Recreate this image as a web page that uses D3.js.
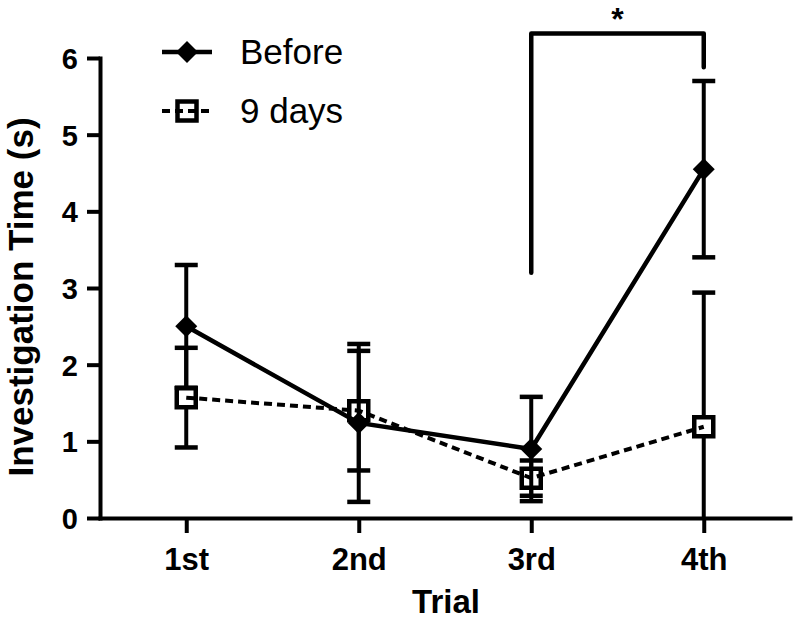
<!DOCTYPE html>
<html>
<head>
<meta charset="utf-8">
<script src="https://cdn.jsdelivr.net/npm/d3@7/dist/d3.min.js"></script>
<style>
  html, body { margin: 0; padding: 0; background: #ffffff; }
  svg { display: block; }
</style>
</head>
<body>
<svg id="chart" width="793" height="621"></svg>
<script>
// ---- data ----
const categories = ["1st", "2nd", "3rd", "4th"];
const beforeMean = [2.5, 1.24, 0.9, 4.55];
const beforeErr  = [0.8, 1.03, 0.68, 1.15];
const daysMean   = [1.57, 1.40, 0.52, 1.19];
const daysErr    = [0.65, 0.78, 0.23, 1.75];
const yTicks     = [0, 1, 2, 3, 4, 5, 6];
const seriesNames = ["Before", "9 days"];
// significance bracket: left leg bottom, top, right leg bottom (data units)
const sigFrom = "3rd", sigTo = "4th";
const sigLevels = [3.2, 6.32, 5.88];
const sigLabel = "*";

// ---- layout ----
const svg = d3.select("#chart");
const x = d3.scalePoint().domain(categories).range([100, 790]).padding(0.5);
const y = d3.scaleLinear().domain([0, 6]).range([518, 58]);

const FONT = "'Liberation Sans', Arial, Helvetica, sans-serif";

// ---- axes ----
const yAxis = svg.append("g").attr("transform", "translate(100,0)")
  .call(d3.axisLeft(y).tickValues(yTicks).tickSize(13).tickSizeOuter(0).tickPadding(9).tickFormat(d3.format("d")));
yAxis.select(".domain").attr("stroke", "#000").attr("stroke-width", 4).attr("stroke-linecap", "square");
yAxis.selectAll(".tick line").attr("stroke", "#000").attr("stroke-width", 4);
yAxis.selectAll(".tick text").attr("font-family", FONT).attr("font-weight", "bold")
  .attr("font-size", 29).attr("fill", "#000").attr("dy", "0.36em");

const xAxis = svg.append("g").attr("transform", "translate(0,518)")
  .call(d3.axisBottom(x).tickSize(15).tickSizeOuter(0));
xAxis.select(".domain").attr("stroke", "#000").attr("stroke-width", 4).attr("stroke-linecap", "square");
xAxis.selectAll(".tick line").attr("stroke", "#000").attr("stroke-width", 4);
xAxis.selectAll(".tick text").attr("font-family", FONT).attr("font-weight", "bold")
  .attr("font-size", 31).attr("fill", "#000").attr("y", 52).attr("dy", 0);

// axis titles
svg.append("text").attr("x", 446).attr("y", 613).attr("text-anchor", "middle")
  .attr("font-family", FONT).attr("font-weight", "bold").attr("font-size", 33).text("Trial");
svg.append("text").attr("transform", "translate(33,297) rotate(-90)").attr("text-anchor", "middle")
  .attr("font-family", FONT).attr("font-weight", "bold").attr("font-size", 35).text("Investigation Time (s)");

// ---- helpers ----
const capHalf = 11.5;
function drawErrors(g, means, errs, sw) {
  categories.forEach((c, i) => {
    const cx = x(c);
    const hi = means[i] + errs[i];
    const lo = Math.max(0, means[i] - errs[i]);
    g.append("line").attr("x1", cx).attr("x2", cx).attr("y1", y(hi)).attr("y2", y(lo))
      .attr("stroke", "#000").attr("stroke-width", sw);
    g.append("line").attr("x1", cx - capHalf).attr("x2", cx + capHalf).attr("y1", y(hi)).attr("y2", y(hi))
      .attr("stroke", "#000").attr("stroke-width", 4.5);
    if (means[i] - errs[i] > 0) {
      g.append("line").attr("x1", cx - capHalf).attr("x2", cx + capHalf).attr("y1", y(lo)).attr("y2", y(lo))
        .attr("stroke", "#000").attr("stroke-width", 4.5);
    }
  });
}
const diamondPath = "M0,-11L11,0L0,11L-11,0Z";
const sq = 9.5;
const squarePath = `M${-sq},${-sq}H${sq}V${sq}H${-sq}Z`;

const line = d3.line().x((d, i) => x(categories[i])).y(d => y(d));

// ---- 9 days series ----
const gDays = svg.append("g");
drawErrors(gDays, daysMean, daysErr, 4);
gDays.selectAll("path.mk").data(daysMean).join("path").attr("class", "mk")
  .attr("d", squarePath)
  .attr("transform", (d, i) => `translate(${x(categories[i])},${y(d)})`)
  .attr("fill", "#fff").attr("stroke", "#000").attr("stroke-width", 4.5);
gDays.append("path").datum(daysMean).attr("d", line)
  .attr("fill", "none").attr("stroke", "#000").attr("stroke-width", 4)
  .attr("stroke-dasharray", "8,5");

// ---- Before series ----
const gBefore = svg.append("g");
drawErrors(gBefore, beforeMean, beforeErr, 4);
gBefore.append("path").datum(beforeMean).attr("d", line)
  .attr("fill", "none").attr("stroke", "#000").attr("stroke-width", 4.5);
gBefore.selectAll("path.mk").data(beforeMean).join("path").attr("class", "mk")
  .attr("d", diamondPath)
  .attr("transform", (d, i) => `translate(${x(categories[i])},${y(d)})`)
  .attr("fill", "#000");

// ---- significance bracket ----
const bx1 = x(sigFrom), bx2 = x(sigTo);
svg.append("path")
  .attr("d", `M${bx1},${y(sigLevels[0])}V${y(sigLevels[1])}H${bx2}V${y(sigLevels[2])}`)
  .attr("fill", "none").attr("stroke", "#000").attr("stroke-width", 4.5)
  .attr("stroke-linejoin", "round").attr("stroke-linecap", "round");
svg.append("text").attr("x", (bx1 + bx2) / 2).attr("y", 30).attr("text-anchor", "middle")
  .attr("font-family", FONT).attr("font-weight", "bold").attr("font-size", 32).text(sigLabel);

// ---- legend ----
const lg = svg.append("g");
const legX1 = 162, legX2 = 212, legCx = 187;
const legY = [52, 111];
// Before
lg.append("line").attr("x1", legX1).attr("x2", legX2).attr("y1", legY[0]).attr("y2", legY[0])
  .attr("stroke", "#000").attr("stroke-width", 4.5);
lg.append("path").attr("d", diamondPath).attr("transform", `translate(${legCx},${legY[0]})`).attr("fill", "#000");
// 9 days
lg.append("path").attr("d", squarePath).attr("transform", `translate(${legCx},${legY[1]})`)
  .attr("fill", "#fff").attr("stroke", "#000").attr("stroke-width", 4.5);
lg.append("line").attr("x1", legX1).attr("x2", legX2).attr("y1", legY[1]).attr("y2", legY[1])
  .attr("stroke", "#000").attr("stroke-width", 4).attr("stroke-dasharray", "8,5");
lg.selectAll("text").data(seriesNames).join("text")
  .attr("x", 240).attr("y", (d, i) => legY[i] + 12)
  .attr("font-family", FONT).attr("font-size", 35).attr("fill", "#000").text(d => d);
</script>
</body>
</html>
